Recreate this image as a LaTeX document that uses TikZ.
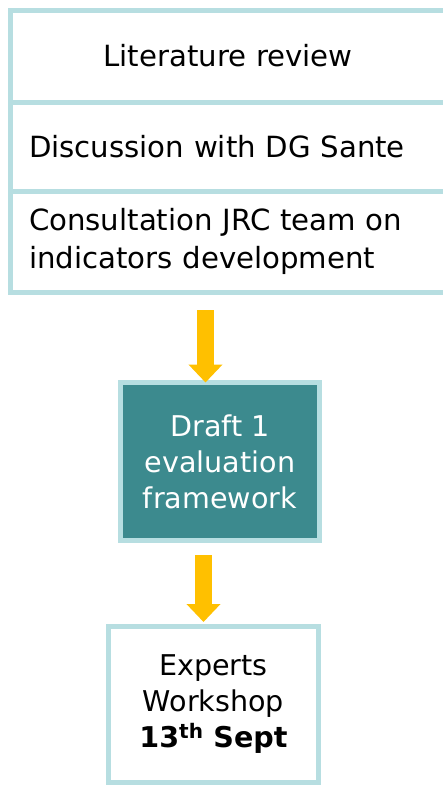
\documentclass[tikz,border=0pt]{standalone}
\usepackage{fontspec}
\setmainfont{DejaVu Sans}
\usepackage{xcolor}
\usetikzlibrary{positioning,arrows.meta}

\definecolor{paleblue}{HTML}{B7DEE1}
\definecolor{teal}{HTML}{3C8A8E}
\definecolor{gold}{HTML}{FFC000}

\tikzset{
  stackbox/.style={draw=paleblue, line width=5pt, outer sep=0pt, fill=white,
    minimum width=436pt, text width=398pt, inner xsep=19pt,
    font=\fontsize{29.2}{38}\selectfont},
  flowbox/.style={draw=paleblue, line width=5pt, outer sep=0pt, align=center,
    font=\fontsize{28.6}{36}\selectfont},
  flowarrow/.style={draw=gold, line width=17pt,
    -{Triangle[width=33pt,length=18pt]}}
}

\begin{document}
\begin{tikzpicture}
  \useasboundingbox (0pt,0pt) rectangle (443pt,-787pt);
  % input stack
  \node[stackbox, align=center, minimum height=92pt] (lit) at (228pt,-56pt) {Literature review};
  \node[stackbox, align=left, minimum height=89pt, below=0pt of lit] (dg) {Discussion with DG Sante};
  \node[stackbox, align=left, minimum height=101pt, below=0pt of dg] (jrc) {Consultation JRC team on indicators development};
  % draft and workshop
  \node[flowbox, fill=teal, text=white, minimum width=199pt, minimum height=158pt] (draft) at (220pt,-461.5pt) {Draft 1\\evaluation\\framework};
  \node[flowbox, fill=white, minimum width=210pt, minimum height=156pt] (work) at (213.5pt,-704.5pt) {Experts\\Workshop\\\textbf{13\textsuperscript{th} Sept}};
  % arrows
  \coordinate (a1) at ([xshift=-14.5pt]draft.north);
  \coordinate (a2) at ([xshift=-10pt]work.north);
  \draw[flowarrow, shorten <=18pt] (a1 |- jrc.south) -- (a1);
  \draw[flowarrow, shorten <=14.5pt, shorten >=4.5pt] (a2 |- draft.south) -- (a2);
\end{tikzpicture}
\end{document}
